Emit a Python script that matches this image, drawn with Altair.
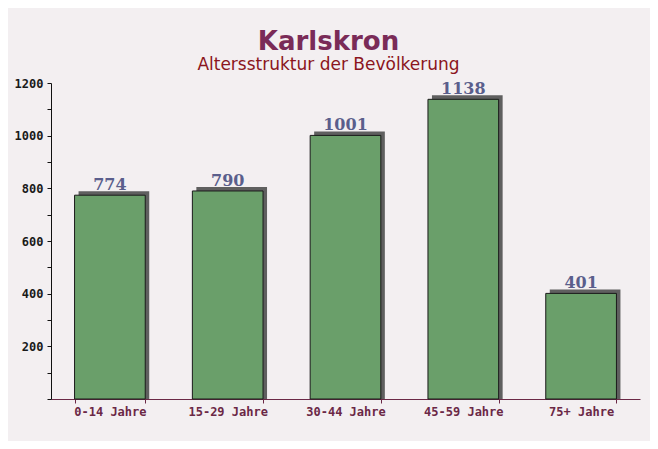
import altair as alt
import pandas as pd

categories = ["0-14 Jahre", "15-29 Jahre", "30-44 Jahre", "45-59 Jahre", "75+ Jahre"]
values = [774, 790, 1001, 1138, 401]

df = pd.DataFrame({"Altersgruppe": categories, "Anzahl": values})

x = alt.X("Altersgruppe:N", sort=categories, title=None,
          scale=alt.Scale(paddingInner=0.4, paddingOuter=0.2),
          axis=alt.Axis(labelAngle=0, labelFont="DejaVu Sans Mono", labelFontSize=12,
                        labelFontWeight="bold", labelColor="#6b2846", labelPadding=3,
                        domainColor="#6b2846", tickColor="#6b2846", tickBand="extent",
                        tickSize=4, grid=False))
y = alt.Y("Anzahl:Q", title=None,
          scale=alt.Scale(domain=[0, 1200], nice=False),
          axis=alt.Axis(values=list(range(0, 1300, 100)),
                        labelExpr="datum.value > 0 && datum.value % 200 == 0 ? datum.label : ''",
                        labelFont="DejaVu Sans Mono", labelFontSize=12, labelFontWeight="bold",
                        labelColor="#1a1a1a", domainColor="#111111", tickColor="#111111",
                        tickSize=4, labelPadding=4, grid=False, format="d"))

shadow = alt.Chart(df).mark_bar(color="#5f5f5f", xOffset=4, yOffset=-4, y2Offset=0.001).encode(
    x=x, y=y, y2=alt.datum(0))
bars = alt.Chart(df).mark_bar(color="#6a9f6a", stroke="#1a1a1a", strokeWidth=1).encode(x=x, y=y)
labels = alt.Chart(df).mark_text(baseline="bottom", dy=-2, font="DejaVu Serif", fontSize=16,
                                 fontWeight="bold", color="#5a5e8c").encode(
    x=x, y=y, text="Anzahl:Q")

chart = alt.layer(shadow, bars, labels).properties(
    width=589, height=316,
    autosize=alt.AutoSizeParams(type="none"),
    padding={"left": 43, "top": 75, "right": 10, "bottom": 42},
    background="#f3eff1",
    title=alt.TitleParams(text="Karlskron", subtitle="Altersstruktur der Bevölkerung",
                          anchor="middle", dx=-17, offset=4,
                          font="DejaVu Sans", fontSize=26, fontWeight="bold", color="#7a2b58",
                          subtitleFont="DejaVu Sans", subtitleFontSize=17,
                          subtitleColor="#8b1520", subtitlePadding=2),
).configure_view(stroke=None)

chart.save("out.html", embed_options={"renderer": "svg", "actions": False})
